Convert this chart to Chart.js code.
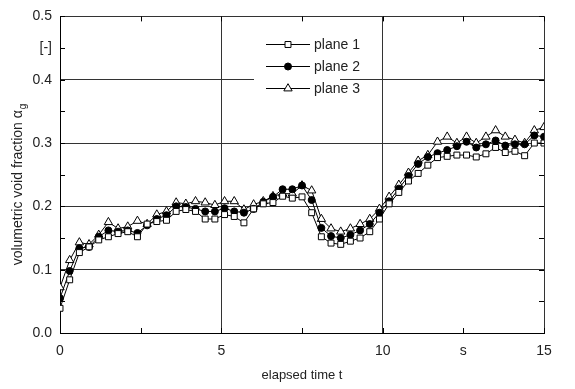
<!DOCTYPE html>
<html>
<head>
<meta charset="utf-8">
<script src="https://cdn.jsdelivr.net/npm/chart.js@4/dist/chart.umd.min.js"></script>
<style>
  html, body { margin: 0; padding: 0; background: #fff; }
  #wrap { width: 575px; height: 389px; }
</style>
</head>
<body>
<div id="wrap"><canvas id="voidChart"></canvas></div>
<script>
// elapsed time, s
const timeS = [0, 0.3, 0.6, 0.9, 1.2, 1.5, 1.8, 2.1, 2.4, 2.7, 3.0, 3.3, 3.6, 3.9, 4.2, 4.5, 4.8,
    5.1, 5.4, 5.7, 6.0, 6.3, 6.6, 6.9, 7.2, 7.5, 7.8, 8.1, 8.4, 8.7, 9.0, 9.3, 9.6, 9.9,
    10.2, 10.5, 10.8, 11.1, 11.4, 11.7, 12.0, 12.3, 12.6, 12.9, 13.2, 13.5, 13.8, 14.1, 14.4, 14.7, 15.0];

// void fraction per measuring plane
const plane1 = [0.039, 0.084, 0.127, 0.136, 0.147, 0.152, 0.157, 0.160, 0.152, 0.172, 0.176, 0.178, 0.192,
    0.195, 0.192, 0.180, 0.180, 0.187, 0.184, 0.174, 0.196, 0.204, 0.206, 0.216, 0.213, 0.215, 0.190,
    0.152, 0.142, 0.140, 0.145, 0.150, 0.160, 0.180, 0.204, 0.222, 0.240, 0.252, 0.265, 0.277, 0.279,
    0.281, 0.281, 0.278, 0.283, 0.293, 0.285, 0.287, 0.280, 0.300, 0.300];
const plane2 = [0.055, 0.098, 0.134, 0.136, 0.152, 0.162, 0.160, 0.162, 0.158, 0.170, 0.180, 0.186, 0.200,
    0.199, 0.196, 0.192, 0.192, 0.197, 0.192, 0.190, 0.196, 0.207, 0.215, 0.227, 0.227, 0.233, 0.210,
    0.166, 0.153, 0.150, 0.155, 0.162, 0.172, 0.190, 0.208, 0.228, 0.248, 0.267, 0.278, 0.284, 0.289,
    0.295, 0.302, 0.293, 0.298, 0.304, 0.296, 0.298, 0.298, 0.312, 0.310];
const plane3 = [0.072, 0.115, 0.143, 0.140, 0.155, 0.175, 0.165, 0.168, 0.177, 0.172, 0.187, 0.192, 0.206,
    0.204, 0.208, 0.206, 0.202, 0.208, 0.208, 0.195, 0.203, 0.208, 0.216, 0.220, 0.220, 0.233, 0.225,
    0.180, 0.165, 0.160, 0.165, 0.172, 0.180, 0.196, 0.215, 0.234, 0.253, 0.272, 0.281, 0.302, 0.310,
    0.300, 0.310, 0.300, 0.310, 0.320, 0.310, 0.305, 0.300, 0.320, 0.325];

const seriesNames = ['plane 1', 'plane 2', 'plane 3'];

// tick labels (value -> text), other ticks stay blank
const xTickText = { 0: '0', 5: '5', 10: '10', 12.5: 's', 15: '15' };
const yTickText = { 0: '0.0', 0.1: '0.1', 0.2: '0.2', 0.3: '0.3', 0.4: '0.4', 0.45: '[-]', 0.5: '0.5' };
const xGridAt = [5, 10, 15];
const yGridAt = [0.1, 0.2, 0.3, 0.4, 0.5];

const FONT = '"Liberation Sans", Arial, sans-serif';
const INK = '#222';

function toPoints(vals) {
    return vals.map((v, i) => ({ x: timeS[i], y: v }));
}
function keyOf(v) {
    return String(Math.round(v * 100) / 100);
}
function isOn(list, v) {
    return list.some(g => Math.abs(g - v) < 1e-6);
}

// inward tick marks on all four sides
const frameTicks = {
    id: 'frameTicks',
    afterDraw(chart) {
        const { ctx, chartArea: a, scales: { x, y } } = chart;
        ctx.save();
        ctx.strokeStyle = '#000';
        ctx.lineWidth = 1;
        ctx.beginPath();
        x.ticks.forEach(t => {
            const px = Math.round(x.getPixelForValue(t.value)) + 0.5;
            ctx.moveTo(px, a.bottom); ctx.lineTo(px, a.bottom - 5);
            ctx.moveTo(px, a.top); ctx.lineTo(px, a.top + 5);
        });
        y.ticks.forEach(t => {
            const py = Math.round(y.getPixelForValue(t.value)) + 0.5;
            ctx.moveTo(a.left, py); ctx.lineTo(a.left + 5, py);
            ctx.moveTo(a.right, py); ctx.lineTo(a.right - 5, py);
        });
        ctx.stroke();
        ctx.restore();
    }
};

// y axis title with subscript g
const yTitle = {
    id: 'yTitle',
    afterDraw(chart) {
        const ctx = chart.ctx;
        const main = 'volumetric void fraction α';
        ctx.save();
        ctx.fillStyle = INK;
        ctx.font = '14px ' + FONT;
        const w1 = ctx.measureText(main).width;
        ctx.font = '10px ' + FONT;
        const w2 = ctx.measureText('g').width;
        ctx.translate(22, 185);
        ctx.rotate(-Math.PI / 2);
        ctx.textBaseline = 'alphabetic';
        ctx.textAlign = 'left';
        const start = -(w1 + w2) / 2;
        ctx.font = '14px ' + FONT;
        ctx.fillText(main, start, 0);
        ctx.font = '10px ' + FONT;
        ctx.fillText('g', start + w1 + 1, 4);
        ctx.restore();
    }
};

// legend box inside the plot
const boxLegend = {
    id: 'boxLegend',
    afterDatasetsDraw(chart) {
        const ctx = chart.ctx;
        ctx.save();
        ctx.fillStyle = '#fff';
        ctx.fillRect(254, 33, 86, 66);
        chart.data.datasets.forEach((ds, i) => {
            const cy = 44 + i * 22 + 0.5;
            ctx.strokeStyle = '#000';
            ctx.lineWidth = 1;
            ctx.beginPath();
            ctx.moveTo(266, cy);
            ctx.lineTo(310, cy);
            ctx.stroke();
            ctx.fillStyle = ds.pointBackgroundColor;
            ctx.strokeStyle = '#000';
            Chart.helpers.drawPoint(ctx, {
                pointStyle: ds.pointStyle,
                radius: ds.pointRadius,
                borderWidth: 1
            }, 288, cy);
            ctx.fillStyle = INK;
            ctx.font = '14px ' + FONT;
            ctx.textBaseline = 'middle';
            ctx.fillText(ds.label, 314, cy + 0.5);
        });
        ctx.restore();
    }
};

function lineSet(label, vals, style, radius, fill) {
    return {
        label: label,
        data: toPoints(vals),
        borderColor: '#000',
        borderWidth: 1,
        backgroundColor: fill,
        pointStyle: style,
        pointRadius: radius,
        pointBackgroundColor: fill,
        pointBorderColor: '#000',
        pointBorderWidth: 1,
        tension: 0
    };
}

const ctx = document.getElementById('voidChart').getContext('2d');
new Chart(ctx, {
    type: 'line',
    data: {
        datasets: [
            lineSet(seriesNames[0], plane1, 'rect', 4.2, '#fff'),
            lineSet(seriesNames[1], plane2, 'circle', 3.5, '#000'),
            lineSet(seriesNames[2], plane3, 'triangle', 4.8, '#fff')
        ]
    },
    options: {
        responsive: true,
        maintainAspectRatio: false,
        animation: false,
        layout: { padding: { top: 13, right: 31, left: 0, bottom: 0 } },
        plugins: {
            legend: { display: false },
            tooltip: { enabled: false }
        },
        scales: {
            x: {
                type: 'linear',
                min: 0,
                max: 15,
                afterFit: s => { s.height = 56; },
                ticks: {
                    stepSize: 2.5,
                    autoSkip: false,
                    maxRotation: 0,
                    padding: 10,
                    color: INK,
                    font: { family: FONT, size: 14 },
                    callback: v => xTickText[keyOf(v)] || ''
                },
                grid: {
                    drawTicks: false,
                    lineWidth: 1,
                    color: c => isOn(xGridAt, c.tick.value) ? '#333' : 'rgba(0,0,0,0)'
                },
                border: { color: '#000', width: 1 },
                title: {
                    display: true,
                    text: 'elapsed time t',
                    color: INK,
                    font: { family: FONT, size: 13 },
                    padding: { top: 0, bottom: 6 }
                }
            },
            y: {
                min: 0,
                max: 0.5,
                afterFit: s => { s.width = 60; },
                ticks: {
                    stepSize: 0.05,
                    autoSkip: false,
                    padding: 8,
                    color: INK,
                    font: { family: FONT, size: 14 },
                    callback: v => yTickText[keyOf(v)] || ''
                },
                grid: {
                    drawTicks: false,
                    lineWidth: 1,
                    color: c => isOn(yGridAt, c.tick.value) ? '#333' : 'rgba(0,0,0,0)'
                },
                border: { color: '#000', width: 1 }
            }
        }
    },
    plugins: [frameTicks, yTitle, boxLegend]
});
</script>
</body>
</html>
